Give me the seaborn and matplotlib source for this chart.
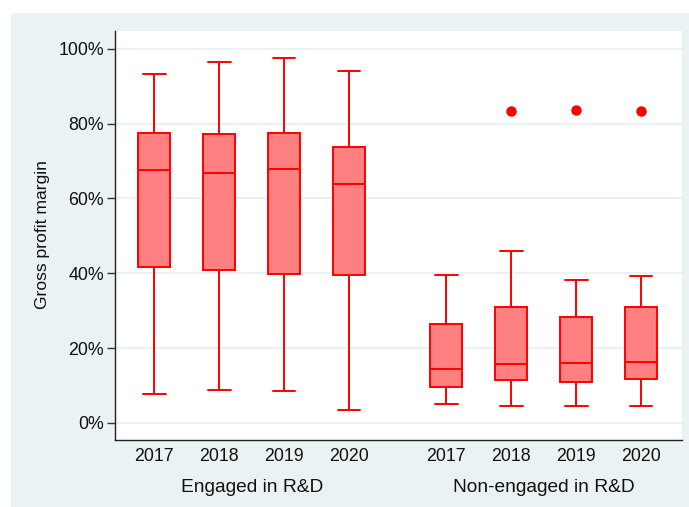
import numpy as np
import pandas as pd
import seaborn as sns
import matplotlib.pyplot as plt
from matplotlib.patches import Rectangle

# five-number summaries (gross profit margin, %)
years = ["2017", "2018", "2019", "2020"]
group_names = ["Engaged in R&D", "Non-engaged in R&D"]

eng_low = [7.8, 8.9, 8.6, 3.3]
eng_q1 = [41.6, 40.8, 39.9, 39.6]
eng_med = [67.5, 66.7, 67.9, 63.9]
eng_q3 = [77.6, 77.3, 77.6, 73.8]
eng_high = [93.4, 96.5, 97.7, 94.2]

non_low = [5.0, 4.4, 4.6, 4.4]
non_q1 = [9.7, 11.4, 10.9, 11.7]
non_med = [14.5, 15.7, 15.9, 16.2]
non_q3 = [26.4, 30.9, 28.2, 30.9]
non_high = [39.6, 45.9, 38.3, 39.4]
non_outlier = [None, 83.3, 83.8, 83.3]

# box positions on the x axis (gap between the two groups)
positions = [0, 1, 2, 3, 4.5, 5.5, 6.5, 7.5]


def box_values(lo, q1, med, q3, hi, out=None):
    # 9 values whose quartiles / whiskers are exactly the summary
    last = hi if out is None else out
    return [lo, q1, q1, q1, med, q3, q3, hi, last]


rows = []
for i in range(4):
    for v in box_values(eng_low[i], eng_q1[i], eng_med[i], eng_q3[i], eng_high[i]):
        rows.append({"pos": positions[i], "margin": v})
for i in range(4):
    for v in box_values(non_low[i], non_q1[i], non_med[i], non_q3[i], non_high[i], non_outlier[i]):
        rows.append({"pos": positions[4 + i], "margin": v})
df = pd.DataFrame(rows)

sns.set_theme(style="white")
plt.rcParams["font.family"] = ["Liberation Sans", "DejaVu Sans"]

bg = "#EAF2F3"
fig = plt.figure(figsize=(6.89, 5.07), dpi=100, facecolor="white")
fig.patches.append(Rectangle((11 / 689, 0), 1 - 11 / 689, 1 - 13 / 507,
                             transform=fig.transFigure, facecolor=bg,
                             edgecolor="none", zorder=-10))
ax = fig.add_axes([115 / 689, (507 - 440) / 507, (682 - 115) / 689, (440 - 31) / 507])
ax.set_facecolor("white")

sns.boxplot(data=df, x="pos", y="margin", native_scale=True, ax=ax,
            color="#FF8080", saturation=1, linecolor="#FF0000", linewidth=1.4,
            width=0.49, whis=1.5, capwidths=0.35,
            flierprops=dict(marker="o", markerfacecolor="#FF0000",
                            markeredgecolor="#FF0000", markersize=6.5))

ax.set_xlim(-0.605, 8.13)
ax.set_ylim(-4.6, 104.8)
ax.set_yticks([0, 20, 40, 60, 80, 100])
ax.set_yticklabels([f"{t}%" for t in [0, 20, 40, 60, 80, 100]], fontsize=12.8, color="#111111")
ax.set_xticks(positions)
ax.set_xticklabels(years * 2, fontsize=12.8, color="#111111")
ax.tick_params(axis="x", length=0, pad=6)
ax.tick_params(axis="y", length=5.5, width=1, color="#333333", pad=2.5, left=True)
ax.set_xlabel("")
ax.set_ylabel("")

ax.yaxis.grid(True, color=bg, linewidth=1.6)
ax.xaxis.grid(False)
ax.set_axisbelow(True)

for side in ["top", "right"]:
    ax.spines[side].set_visible(False)
for side in ["left", "bottom"]:
    ax.spines[side].set_color("#222222")
    ax.spines[side].set_linewidth(1.0)

# group labels under the years
ax.text(1.5, -(487 - 440) / 409, group_names[0], transform=ax.get_xaxis_transform(),
        ha="center", va="center", fontsize=13.8, color="#111111")
ax.text(6.0, -(487 - 440) / 409, group_names[1], transform=ax.get_xaxis_transform(),
        ha="center", va="center", fontsize=13.8, color="#111111")

fig.text(43 / 689, 1 - 235 / 507, "Gross profit margin", rotation=90,
         ha="center", va="center", fontsize=12.6, color="#111111")

fig.savefig("out.png", dpi=100, facecolor="white")
